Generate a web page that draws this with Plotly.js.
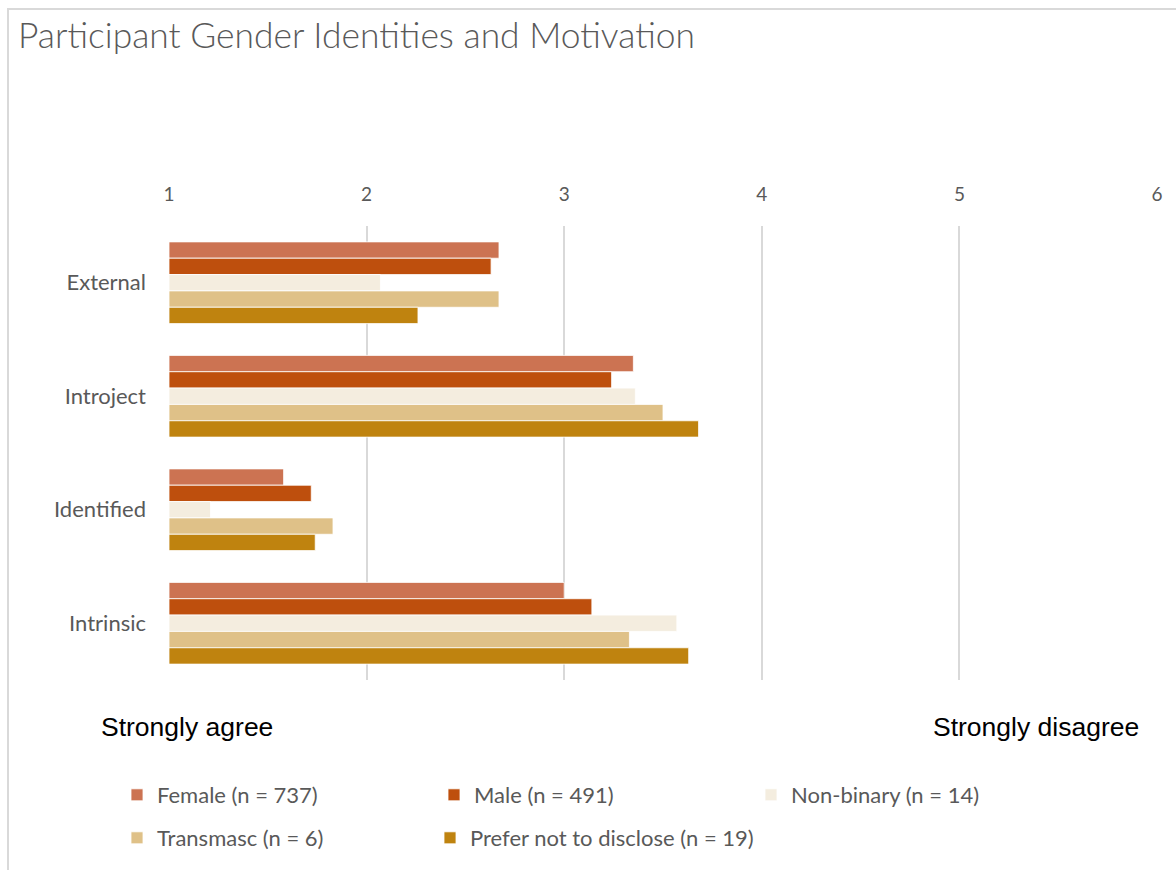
<!DOCTYPE html>
<html>
<head>
<meta charset="utf-8">
<script src="https://cdn.plot.ly/plotly-3.0.1.min.js"></script>
<style>
  html, body { margin: 0; padding: 0; background: #fff; }
  #wrap { position: relative; width: 1176px; height: 870px; overflow: hidden; }
  #chart { position: absolute; left: 0; top: 0; width: 1176px; height: 870px; }
  #frame { position: absolute; left: 7px; top: 8px; width: 1200px; height: 900px;
           border-left: 2px solid #d9d9d9; border-top: 2px solid #d9d9d9; pointer-events: none; }
</style>
</head>
<body>
<div id="wrap">
  <div id="chart"></div>
  <div id="frame"></div>
</div>
<script>
// Motivation subscales (rows, top to bottom)
const categories = ['External', 'Introject', 'Identified', 'Intrinsic'];

// Mean scores per gender identity group
const seriesNames = ['Female (n = 737)', 'Male (n = 491)', 'Non-binary (n = 14)',
                     'Transmasc (n = 6)', 'Prefer not to disclose (n = 19)'];
const female      = [2.67, 3.35, 1.58, 3.00];
const male        = [2.63, 3.24, 1.72, 3.14];
const nonBinary   = [2.07, 3.36, 1.21, 3.57];
const transmasc   = [2.67, 3.50, 1.83, 3.33];
const preferNot   = [2.26, 3.68, 1.74, 3.63];

const tickValues = [1, 2, 3, 4, 5, 6];
const tickLabels = ['1', '2', '3', '4', '5', '6'];

const colors = ['#CC7352', '#BE4F0D', '#F4EDDF', '#DFC188', '#BF830F'];
const seriesValues = [female, male, nonBinary, transmasc, preferNot];
// first legend row holds three entries, second row is split in two blocks
const legendIds = ['legend', 'legend', 'legend', 'legend2', 'legend3'];

const FONT = 'Lato, "Open Sans", sans-serif';
const GREY = '#595959';

const traces = seriesValues.map((vals, i) => ({
  type: 'bar',
  orientation: 'h',
  name: seriesNames[i],
  y: categories,
  x: vals.map(v => v - 1),
  base: 1,
  marker: { color: colors[i], line: { color: 'rgba(255,255,255,0.8)', width: 1 } },
  legend: legendIds[i],
  hoverinfo: 'skip'
}));

const legendCommon = {
  orientation: 'h',
  xref: 'container', yref: 'container',
  xanchor: 'left', yanchor: 'middle',
  x: 117 / 1176,
  font: { family: FONT, size: 22, color: GREY },
  entrywidth: 272, entrywidthmode: 'pixels',
  bgcolor: 'rgba(0,0,0,0)',
  traceorder: 'normal'
};

const layout = {
  width: 1176, height: 870,
  margin: { l: 169, r: 19, t: 226, b: 190 },
  paper_bgcolor: '#ffffff',
  plot_bgcolor: '#ffffff',
  barmode: 'group',
  bargap: 0.28,
  bargroupgap: 0,
  title: {
    text: 'Participant Gender Identities and Motivation',
    font: { family: FONT, size: 35.4, color: GREY, weight: 300 },
    x: 18 / 1176, xanchor: 'left', xref: 'container',
    y: 1 - 36 / 870, yanchor: 'middle', yref: 'container'
  },
  xaxis: {
    side: 'top',
    range: [1, 6],
    tickvals: tickValues,
    ticktext: tickLabels,
    showgrid: true, gridcolor: '#d9d9d9', gridwidth: 2,
    zeroline: false, showline: false, ticks: '',
    ticklabelstandoff: 20,
    tickfont: { family: FONT, size: 19, color: GREY },
    fixedrange: true
  },
  yaxis: {
    type: 'category',
    autorange: 'reversed',
    showgrid: false, zeroline: false, showline: false, ticks: '',
    ticklabelstandoff: 22,
    tickfont: { family: FONT, size: 22, color: GREY },
    fixedrange: true
  },
  legend: Object.assign({}, legendCommon, { y: 1 - 795 / 870 }),
  legend2: Object.assign({}, legendCommon, { y: 1 - 838 / 870 }),
  legend3: Object.assign({}, legendCommon, { y: 1 - 838 / 870, x: 430 / 1176, entrywidth: 330 }),
  annotations: [
    { text: 'Strongly agree', xref: 'paper', yref: 'paper',
      x: (187 - 169) / 988, y: (680 - 727) / 454, xanchor: 'center', yanchor: 'middle',
      showarrow: false, font: { family: '"Liberation Sans", Arial, sans-serif', size: 26.5, color: '#000' } },
    { text: 'Strongly disagree', xref: 'paper', yref: 'paper',
      x: (1036 - 169) / 988, y: (680 - 727) / 454, xanchor: 'center', yanchor: 'middle',
      showarrow: false, font: { family: '"Liberation Sans", Arial, sans-serif', size: 26.5, color: '#000' } }
  ]
};

Plotly.newPlot('chart', traces, layout, { staticPlot: true, displayModeBar: false });
</script>
</body>
</html>
